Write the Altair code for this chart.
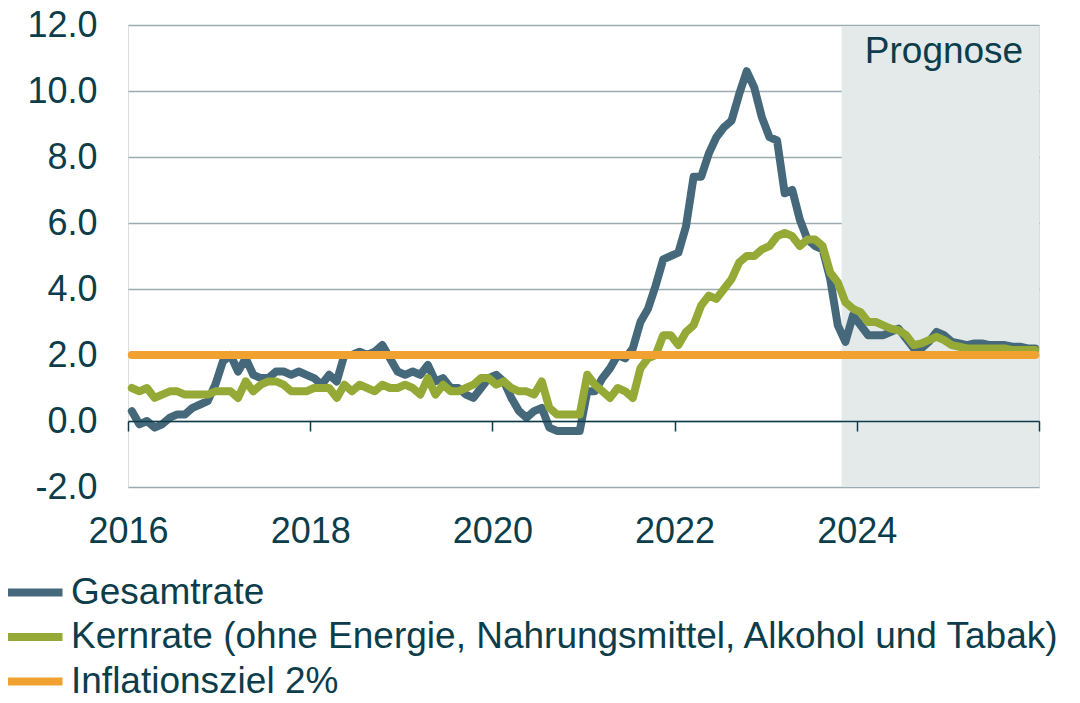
import altair as alt
import pandas as pd

# ---------------- data ----------------
start_year = 2016
n_months = 120  # Jan 2016 .. Dec 2025

gesamtrate = [
    0.3, -0.1, 0.0, -0.2, -0.1, 0.1, 0.2, 0.2, 0.4, 0.5, 0.6, 1.1,   # 2016
    1.8, 2.0, 1.5, 1.9, 1.4, 1.3, 1.3, 1.5, 1.5, 1.4, 1.5, 1.4,      # 2017
    1.3, 1.1, 1.4, 1.2, 2.0, 2.0, 2.1, 2.0, 2.1, 2.3, 1.9, 1.5,      # 2018
    1.4, 1.5, 1.4, 1.7, 1.2, 1.3, 1.0, 1.0, 0.8, 0.7, 1.0, 1.3,      # 2019
    1.4, 1.2, 0.7, 0.3, 0.1, 0.3, 0.4, -0.2, -0.3, -0.3, -0.3, -0.3, # 2020
    0.9, 0.9, 1.3, 1.6, 2.0, 1.9, 2.2, 3.0, 3.4, 4.1, 4.9, 5.0,      # 2021
    5.1, 5.9, 7.4, 7.4, 8.1, 8.6, 8.9, 9.1, 9.9, 10.6, 10.1, 9.2,    # 2022
    8.6, 8.5, 6.9, 7.0, 6.1, 5.5, 5.3, 5.2, 4.3, 2.9, 2.4, 3.2,      # 2023
    2.9, 2.6, 2.6, 2.6, 2.7, 2.8, 2.5, 2.2, 2.2, 2.4, 2.7, 2.6,      # 2024
    2.4, 2.35, 2.3, 2.35, 2.35, 2.3, 2.3, 2.3, 2.25, 2.25, 2.2, 2.2, # 2025
]

kernrate = [
    1.0, 0.9, 1.0, 0.7, 0.8, 0.9, 0.9, 0.8, 0.8, 0.8, 0.8, 0.9,      # 2016
    0.9, 0.9, 0.7, 1.2, 0.9, 1.1, 1.2, 1.2, 1.1, 0.9, 0.9, 0.9,      # 2017
    1.0, 1.0, 1.0, 0.7, 1.1, 0.9, 1.1, 1.0, 0.9, 1.1, 1.0, 1.0,      # 2018
    1.1, 1.0, 0.8, 1.3, 0.8, 1.1, 0.9, 0.9, 1.0, 1.1, 1.3, 1.3,      # 2019
    1.1, 1.2, 1.0, 0.9, 0.9, 0.8, 1.2, 0.4, 0.2, 0.2, 0.2, 0.2,      # 2020
    1.4, 1.1, 0.9, 0.7, 1.0, 0.9, 0.7, 1.6, 1.9, 2.0, 2.6, 2.6,      # 2021
    2.3, 2.7, 2.9, 3.5, 3.8, 3.7, 4.0, 4.3, 4.8, 5.0, 5.0, 5.2,      # 2022
    5.3, 5.6, 5.7, 5.6, 5.3, 5.5, 5.5, 5.3, 4.5, 4.2, 3.6, 3.4,      # 2023
    3.3, 3.0, 3.0, 2.9, 2.8, 2.75, 2.6, 2.3, 2.35, 2.45, 2.55, 2.45, # 2024
    2.3, 2.25, 2.2, 2.2, 2.2, 2.2, 2.2, 2.2, 2.15, 2.15, 2.15, 2.15, # 2025
]

inflationsziel = [2.0] * n_months

series_names = [
    "Gesamtrate",
    "Kernrate (ohne Energie, Nahrungsmittel, Alkohol und Tabak)",
    "Inflationsziel 2%",
]
series_values = [gesamtrate, kernrate, inflationsziel]

x_tick_years = [2016, 2018, 2020, 2022, 2024, 2026]
y_ticks = [-2, 0, 2, 4, 6, 8, 10, 12]
forecast_start = 2023 + 10 / 12   # Nov 2023
forecast_end = 2026
forecast_label = "Prognose"

# ---------------- styles ----------------
colors = ["#45697a", "#95aa36", "#f0a12f"]
text_color = "#0c3d4a"
axis_color = "#0d3b48"
grid_color = "#9aacb1"
shade_color = "#e4eaea"
font = "Liberation Sans"

rows = []
for name, vals in zip(series_names, series_values):
    for i, v in enumerate(vals):
        rows.append({"t": start_year + (i + 0.5) / 12, "wert": v, "serie": name})
df = pd.DataFrame(rows)

x_scale = alt.Scale(domain=[2016, 2026], nice=False, zero=False)
y_scale = alt.Scale(domain=[-2, 12], nice=False, zero=False)
color_scale = alt.Scale(domain=series_names, range=colors)

shade_df = pd.DataFrame({"x": [forecast_start], "x2": [forecast_end], "label": [forecast_label]})

shade = alt.Chart(shade_df).mark_rect(color=shade_color).encode(
    x=alt.X("x:Q", scale=x_scale,
            axis=alt.Axis(values=x_tick_years, format="d",
                          labelExpr="datum.value >= 2026 ? '' : datum.label",
                          offset=-66, tickSize=10, tickWidth=1.5, tickColor=axis_color,
                          domainColor=axis_color, domainWidth=1.5, grid=False,
                          labelPadding=83, labelFontSize=36, labelFont=font,
                          labelColor=text_color, title=None, zindex=1,
                          labelFlush=False, labelOverlap=False)),
    x2="x2:Q",
    y=alt.value(1.5),
    y2=alt.value(462),
)

prognose = alt.Chart(shade_df).mark_text(
    align="center", baseline="middle", fontSize=37, font=font, color=text_color
).encode(
    text="label:N",
    x=alt.value(816),
    y=alt.value(27),
)

legend = alt.Legend(
    orient="none", legendX=-112, legendY=549, direction="vertical", title=None,
    symbolType="M-2,0L2,0", symbolSize=784, symbolStrokeWidth=8,
    labelFontSize=37, labelFont=font, labelColor=text_color,
    labelOffset=18, rowPadding=6.5, padding=0, labelLimit=0,
)

def line_layer(idx):
    return alt.Chart(df).transform_filter(
        alt.datum.serie == series_names[idx]
    ).mark_line(strokeWidth=8, strokeCap="round", strokeJoin="round").encode(
        x=alt.X("t:Q", scale=x_scale),
        y=alt.Y("wert:Q", scale=y_scale,
                axis=alt.Axis(values=y_ticks, format=".1f",
                              labelExpr="replace(datum.label, '\u2212', '-')",
                              grid=True,
                              gridColor=grid_color, gridWidth=1.3, domain=False,
                              ticks=False, labelPadding=31, labelFontSize=36,
                              labelFont=font, labelColor=text_color, title=None,
                              zindex=0)),
        color=alt.Color("serie:N", scale=color_scale, legend=legend,
                        sort=series_names),
    )

chart = alt.layer(
    shade, line_layer(0), line_layer(1), line_layer(2), prognose
).properties(
    width=911, height=462,
    padding={"left": 120, "top": 17, "right": 32, "bottom": 206},
    autosize=alt.AutoSizeParams(type="none"),
).configure_view(stroke=None).configure(font=font)

chart.save("out.html", embed_options={"renderer": "svg", "actions": False})
